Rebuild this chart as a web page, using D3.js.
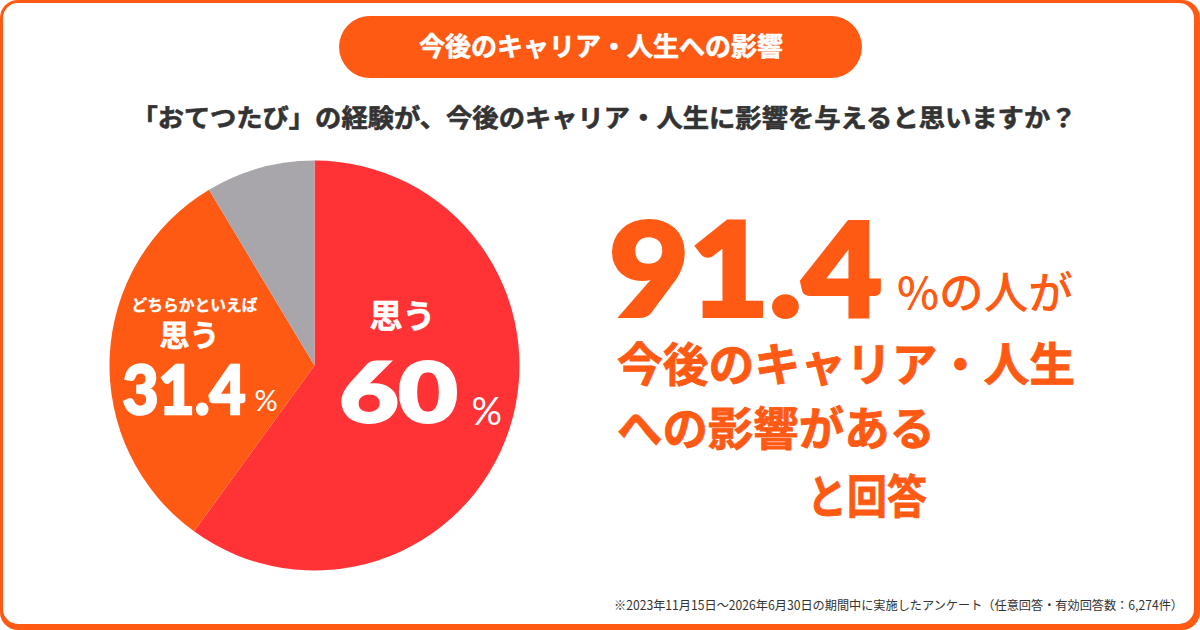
<!DOCTYPE html>
<html>
<head>
<meta charset="utf-8">
<script src="https://cdn.jsdelivr.net/npm/d3@7"></script>
<style>
  html, body { margin: 0; padding: 0; background: #fff; }
  svg { display: block; }
</style>
</head>
<body>
<div id="chart"></div>
<script>
// data
var categories = ["思う", "どちらかといえば思う", "その他"];
var values = [60, 31.4, 8.6];
var sliceColors = ["#ff3336", "#ff5a14", "#a8a6aa"];
var headline = "今後のキャリア・人生への影響";
var question = "「おてつたび」の経験が、今後のキャリア・人生に影響を与えると思いますか？";
var totalPositive = "91.4";
var summaryLines = ["今後のキャリア・人生", "への影響がある", "と回答"];
var footnote = "※2023年11月15日～2026年6月30日の期間中に実施したアンケート（任意回答・有効回答数：6,274件）";

var W = 1200, H = 630;
var orange = "#ff5a14";
var jp = "'Noto Sans CJK JP', 'Noto Sans', sans-serif";
var num = "Lato, 'Noto Sans', Roboto, sans-serif";

var svg = d3.select("#chart").append("svg")
    .attr("width", W)
    .attr("height", H);

// card frame
svg.append("rect")
    .attr("x", 0).attr("y", 0)
    .attr("width", W).attr("height", H)
    .attr("rx", 18)
    .attr("fill", orange);
svg.append("rect")
    .attr("x", 3).attr("y", 3)
    .attr("width", W - 9).attr("height", H - 9)
    .attr("rx", 15)
    .attr("fill", "#fff");

// title pill
svg.append("rect")
    .attr("x", 339).attr("y", 16)
    .attr("width", 523).attr("height", 62)
    .attr("rx", 31)
    .attr("fill", orange);
svg.append("text")
    .attr("x", 601).attr("y", 56)
    .attr("text-anchor", "middle")
    .attr("font-family", jp)
    .attr("font-weight", 700)
    .attr("font-size", 26)
    .attr("fill", "#fff")
    .attr("stroke", "#fff")
    .attr("stroke-width", 0.6)
    .text(headline);

// question
svg.append("text")
    .attr("x", 604).attr("y", 127)
    .attr("text-anchor", "middle")
    .attr("font-family", jp)
    .attr("font-weight", 700)
    .attr("font-size", 25)
    .attr("textLength", 945)
    .attr("lengthAdjust", "spacingAndGlyphs")
    .attr("fill", "#333")
    .attr("stroke", "#333")
    .attr("stroke-width", 0.6)
    .text(question);

// pie
var cx = 314.5, cy = 365.5, radius = 205;

var pie = d3.pie().sort(null).value(d => d);
var arc = d3.arc().innerRadius(0).outerRadius(radius);

var pieGroup = svg.append("g")
    .attr("transform", `translate(${cx}, ${cy})`);

pieGroup.selectAll("path")
    .data(pie(values))
    .enter()
    .append("path")
    .attr("d", arc)
    .attr("fill", (d, i) => sliceColors[i]);

// slice labels: one text block per slice
var lab = pieGroup.append("g")
    .attr("fill", "#fff")
    .attr("stroke", "#fff")
    .attr("font-weight", 700);

// 思う 60%
var t1 = lab.append("text");
t1.append("tspan")
    .attr("x", 55).attr("y", -38)
    .attr("font-family", jp)
    .attr("font-size", 33)
    .attr("stroke-width", 0.6)
    .text(categories[0]);
t1.append("tspan")
    .attr("x", 25).attr("y", 56)
    .attr("font-family", num)
    .attr("font-weight", 900)
    .attr("font-size", 82)
    .attr("stroke-width", 3)
    .attr("textLength", 118)
    .attr("lengthAdjust", "spacingAndGlyphs")
    .text(values[0]);
t1.append("tspan")
    .attr("x", 157).attr("y", 59)
    .attr("font-family", num)
    .attr("font-weight", 400)
    .attr("font-size", 38)
    .attr("stroke-width", 0)
    .text("%");

// どちらかといえば 思う 31.4%
var t2 = lab.append("text");
t2.append("tspan")
    .attr("x", -183).attr("y", -55)
    .attr("font-family", jp)
    .attr("font-size", 16)
    .attr("stroke-width", 0.3)
    .attr("textLength", 126)
    .attr("lengthAdjust", "spacingAndGlyphs")
    .text(categories[1].slice(0, 8));
t2.append("tspan")
    .attr("x", -155).attr("y", -20)
    .attr("font-family", jp)
    .attr("font-size", 30)
    .attr("stroke-width", 0.6)
    .text(categories[1].slice(8));
t2.append("tspan")
    .attr("x", -192).attr("y", 48)
    .attr("font-family", num)
    .attr("font-weight", 900)
    .attr("font-size", 66)
    .attr("stroke-width", 2.5)
    .attr("textLength", 123)
    .attr("lengthAdjust", "spacingAndGlyphs")
    .text(values[1]);
t2.append("tspan")
    .attr("x", -60).attr("y", 45)
    .attr("font-family", num)
    .attr("font-weight", 400)
    .attr("font-size", 29)
    .attr("stroke-width", 0)
    .text("%");

// right-hand summary
var right = svg.append("text")
    .attr("fill", orange)
    .attr("stroke", orange)
    .attr("font-weight", 700);

right.append("tspan")
    .attr("x", 609).attr("y", 316)
    .attr("font-family", num)
    .attr("font-weight", 900)
    .attr("font-size", 130)
    .attr("stroke-width", 4)
    .attr("textLength", 273)
    .attr("lengthAdjust", "spacingAndGlyphs")
    .text(totalPositive);
right.append("tspan")
    .attr("x", 897).attr("y", 309)
    .attr("font-family", jp)
    .attr("font-weight", 500)
    .attr("font-size", 44)
    .attr("stroke-width", 0)
    .attr("textLength", 176)
    .attr("lengthAdjust", "spacingAndGlyphs")
    .text("%の人が");

var lineX = [617, 617, 807];
var lineY = [381, 445, 513];
var lineW = [458, 318, 120];
summaryLines.forEach(function(t, i) {
    right.append("tspan")
        .attr("x", lineX[i]).attr("y", lineY[i])
        .attr("font-family", jp)
        .attr("font-size", 46)
        .attr("stroke-width", 0.8)
        .attr("textLength", lineW[i])
        .attr("lengthAdjust", "spacingAndGlyphs")
        .text(t);
});

// footnote
svg.append("text")
    .attr("x", 1183).attr("y", 610)
    .attr("text-anchor", "end")
    .attr("font-family", jp)
    .attr("font-size", 12.5)
    .attr("textLength", 569)
    .attr("lengthAdjust", "spacingAndGlyphs")
    .attr("fill", "#333")
    .text(footnote);
</script>
</body>
</html>
